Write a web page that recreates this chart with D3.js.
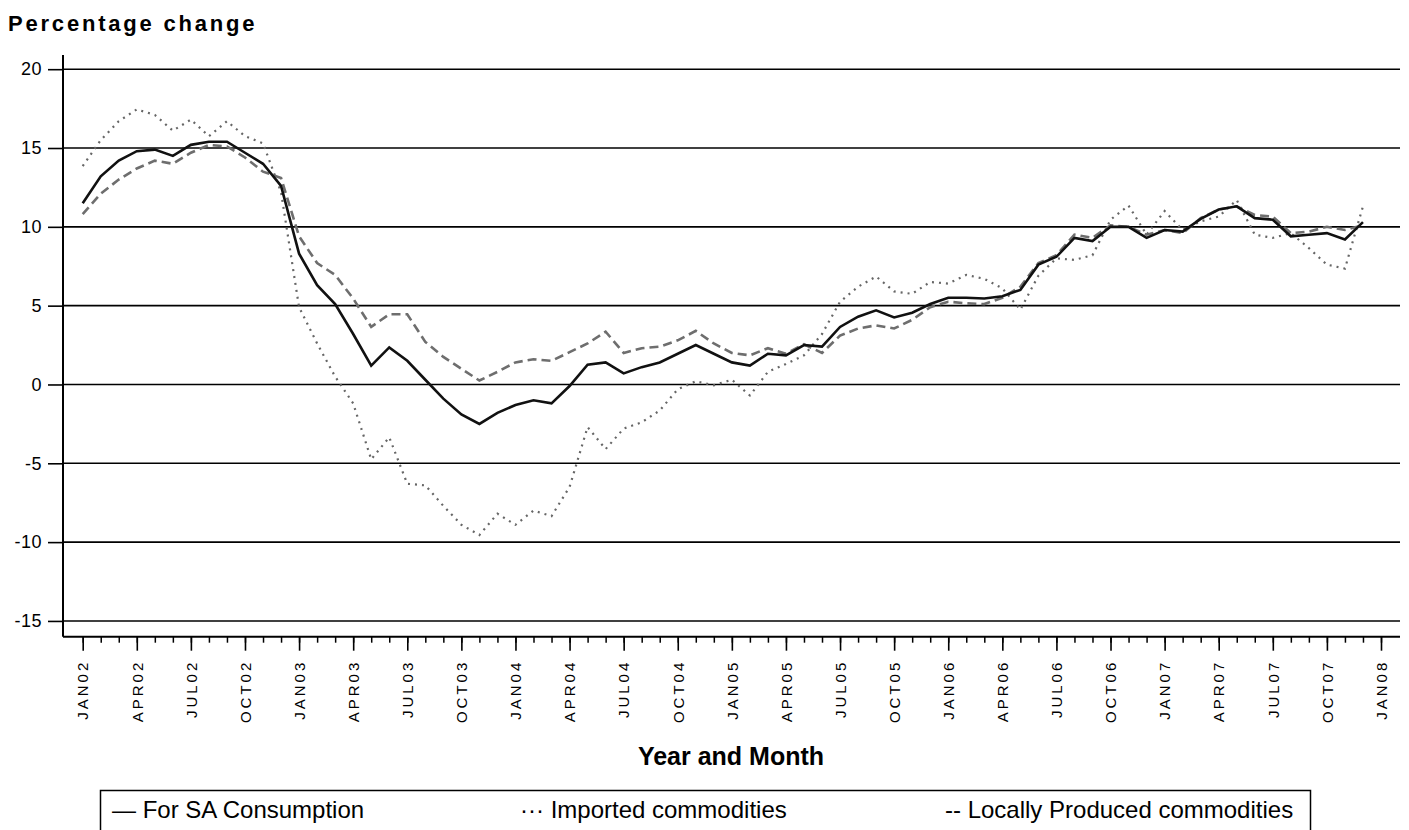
<!DOCTYPE html>
<html>
<head>
<meta charset="utf-8">
<script src="https://cdn.jsdelivr.net/npm/d3@7"></script>
<style>
  body { margin: 0; background: #fff; }
  svg { display: block; }
  text { font-family: "Liberation Sans", Arial, sans-serif; fill: #000; }
</style>
</head>
<body>
<div id="chart"></div>
<script>
// monthly values, JAN02 .. DEC07
var consumption = [
  11.5, 13.2, 14.2, 14.8, 14.9, 14.5, 15.2, 15.4, 15.4, 14.7, 14.0, 12.6,
  8.3, 6.3, 5.1, 3.2, 1.2, 2.35, 1.5, 0.3, -0.9, -1.9, -2.5, -1.8,
  -1.3, -1.0, -1.2, -0.1, 1.25, 1.4, 0.7, 1.1, 1.4, 1.95, 2.5, 1.95,
  1.4, 1.2, 1.95, 1.85, 2.5, 2.4, 3.65, 4.3, 4.7, 4.25, 4.55, 5.1,
  5.5, 5.5, 5.45, 5.6, 6.0, 7.6, 8.1, 9.3, 9.1, 10.0, 10.0, 9.3,
  9.8, 9.7, 10.5, 11.1, 11.3, 10.55, 10.45, 9.4, 9.5, 9.6, 9.2, 10.3
];
var imported = [
  13.85, 15.5, 16.7, 17.45, 17.1, 16.1, 16.8, 15.75, 16.7, 15.75, 15.3, 12.2,
  4.9, 2.6, 0.5, -1.2, -4.75, -3.35, -6.3, -6.4, -7.7, -8.9, -9.55, -8.2,
  -8.9, -8.0, -8.35, -6.5, -2.7, -4.1, -2.8, -2.4, -1.65, -0.3, 0.2, -0.05,
  0.3, -0.7, 0.8, 1.3, 1.85, 3.2, 5.25, 6.2, 6.85, 5.9, 5.75, 6.5,
  6.4, 6.95, 6.7, 6.1, 4.75, 6.9, 8.0, 7.9, 8.2, 10.45, 11.35, 9.5,
  11.0, 9.8, 10.35, 10.65, 11.7, 9.5, 9.3, 9.6, 8.65, 7.6, 7.35, 11.3
];
var local = [
  10.8, 12.1, 13.0, 13.7, 14.2, 14.0, 14.7, 15.2, 15.1, 14.4, 13.5, 13.1,
  9.4, 7.7, 6.95, 5.45, 3.65, 4.45, 4.45, 2.7, 1.75, 1.0, 0.25, 0.8,
  1.4, 1.6, 1.5, 2.05, 2.6, 3.35, 2.0, 2.3, 2.4, 2.8, 3.4, 2.6,
  2.0, 1.85, 2.3, 1.95, 2.55, 2.0, 3.1, 3.55, 3.75, 3.55, 4.1, 4.9,
  5.25, 5.15, 5.1, 5.5, 6.2, 7.7, 8.2, 9.5, 9.3, 10.1, 10.0, 9.5,
  9.8, 9.6, 10.55, 11.1, 11.3, 10.75, 10.65, 9.6, 9.7, 10.0, 9.8, 10.1
];
var monthLabels = ["JAN02","APR02","JUL02","OCT02","JAN03","APR03","JUL03","OCT03",
  "JAN04","APR04","JUL04","OCT04","JAN05","APR05","JUL05","OCT05",
  "JAN06","APR06","JUL06","OCT06","JAN07","APR07","JUL07","OCT07","JAN08"];
var yTicks = [-15, -10, -5, 0, 5, 10, 15, 20];
var seriesNames = ["For SA Consumption", "Imported commodities", "Locally Produced commodities"];

var width = 1409, height = 830;
var plotLeft = 63, plotRight = 1400, plotTop = 55, plotBottom = 636.7;

var svg = d3.select("#chart").append("svg")
    .attr("width", width)
    .attr("height", height);

var x = d3.scaleLinear().domain([0, 72]).range([82.7, 1381]);
var y = d3.scaleLinear().domain([-16, 20.9]).range([plotBottom, plotTop]);

// title
svg.append("text")
    .attr("x", 8)
    .attr("y", 31)
    .style("font-size", "22px")
    .style("font-weight", "bold")
    .style("letter-spacing", "2.8px")
    .text("Percentage change");

// horizontal grid lines
svg.selectAll(".grid")
    .data(yTicks)
    .enter()
    .append("line")
    .attr("x1", plotLeft)
    .attr("x2", plotRight)
    .attr("y1", function(d) { return y(d); })
    .attr("y2", function(d) { return y(d); })
    .attr("stroke", "#000")
    .attr("stroke-width", 1.6);

// y axis
var yAxis = d3.axisLeft(y)
    .tickValues(yTicks)
    .tickSize(15)
    .tickPadding(6)
    .tickFormat(function(d) { return String(d); });
var gy = svg.append("g")
    .attr("transform", "translate(" + plotLeft + ",0)")
    .call(yAxis);
gy.select(".domain").remove();
gy.selectAll(".tick line").attr("stroke-width", 1.6);
gy.selectAll(".tick text")
    .style("font-size", "18px")
    .style("letter-spacing", "0.5px")
    .attr("fill", "#000");

svg.append("line")
    .attr("x1", plotLeft).attr("x2", plotLeft)
    .attr("y1", plotTop).attr("y2", plotBottom)
    .attr("stroke", "#000").attr("stroke-width", 2);

// x axis
svg.append("line")
    .attr("x1", plotLeft).attr("x2", plotRight)
    .attr("y1", plotBottom).attr("y2", plotBottom)
    .attr("stroke", "#000").attr("stroke-width", 2);

var minorAxis = d3.axisBottom(x).tickValues(d3.range(0, 73)).tickSize(6).tickFormat("");
var gxMinor = svg.append("g")
    .attr("transform", "translate(0," + plotBottom + ")")
    .call(minorAxis);
gxMinor.select(".domain").remove();
gxMinor.selectAll(".tick line").attr("stroke-width", 1.5);

var majorAxis = d3.axisBottom(x)
    .tickValues(d3.range(0, 73, 3))
    .tickSize(14)
    .tickFormat(function(d) { return monthLabels[d / 3]; });
var gxMajor = svg.append("g")
    .attr("transform", "translate(0," + plotBottom + ")")
    .call(majorAxis);
gxMajor.select(".domain").remove();
gxMajor.selectAll(".tick line").attr("stroke-width", 1.6);
gxMajor.selectAll(".tick text")
    .attr("fill", "#000")
    .style("font-size", "15px")
    .style("letter-spacing", "3px")
    .attr("text-anchor", "end")
    .attr("transform", "rotate(-90)")
    .attr("x", -23)
    .attr("y", 0)
    .attr("dy", "0.35em");

// axis title
svg.append("text")
    .attr("x", 731)
    .attr("y", 765)
    .attr("text-anchor", "middle")
    .style("font-family", "'Liberation Sans Narrow', 'Arial Narrow', sans-serif")
    .style("font-size", "25px")
    .style("font-weight", "bold")
    .text("Year and Month");

// lines
var line = d3.line()
    .x(function(d, i) { return x(i); })
    .y(function(d) { return y(d); });

svg.append("path")
    .datum(local)
    .attr("d", line)
    .attr("fill", "none")
    .attr("stroke", "#6e6e6e")
    .attr("stroke-width", 2.6)
    .attr("stroke-dasharray", "9,5");

svg.append("path")
    .datum(imported)
    .attr("d", line)
    .attr("fill", "none")
    .attr("stroke", "#666")
    .attr("stroke-width", 2.2)
    .attr("stroke-dasharray", "2,5");

svg.append("path")
    .datum(consumption)
    .attr("d", line)
    .attr("fill", "none")
    .attr("stroke", "#111")
    .attr("stroke-width", 2.6);

// legend
var legend = svg.append("g");
legend.append("rect")
    .attr("x", 100.5)
    .attr("y", 790.5)
    .attr("width", 1210)
    .attr("height", 60)
    .attr("fill", "none")
    .attr("stroke", "#000")
    .attr("stroke-width", 1.5);

var legendItems = [
  { sym: "\u2014", name: seriesNames[0], x: 112 },
  { sym: "\u00b7\u00b7\u00b7", name: seriesNames[1], x: 520 },
  { sym: "--", name: seriesNames[2], x: 945 }
];
legend.selectAll(".item")
    .data(legendItems)
    .enter()
    .append("text")
    .attr("x", function(d) { return d.x; })
    .attr("y", 818)
    .style("font-family", "'Liberation Sans Narrow', 'Arial Narrow', sans-serif")
    .style("font-size", "24px")
    .text(function(d) { return d.sym + " " + d.name; });
</script>
</body>
</html>
